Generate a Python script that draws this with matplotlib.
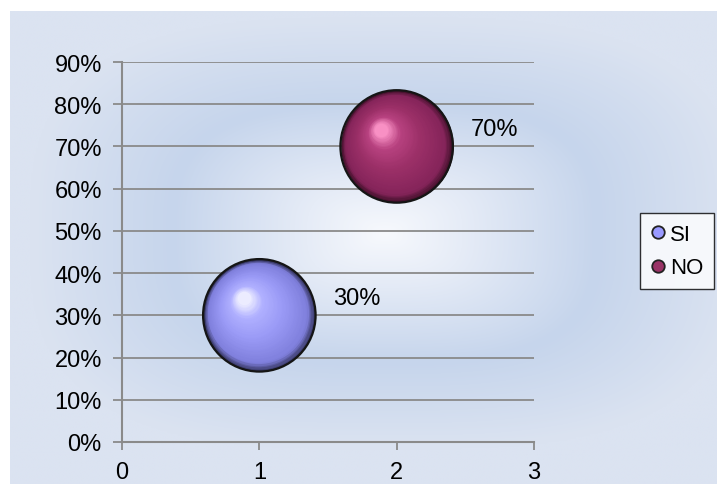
import numpy as np
import matplotlib.pyplot as plt
from matplotlib.colors import to_rgb
from matplotlib.lines import Line2D
from matplotlib.transforms import offset_copy

plt.rcParams["font.family"] = ["Liberation Sans", "DejaVu Sans"]

# Daten
categorias = ["SI", "NO"]
x_vals = [1, 2]
porcentajes = [30, 70]
etiquetas = ["30%", "70%"]
yticks = [0, 10, 20, 30, 40, 50, 60, 70, 80, 90]
xticks = [0, 1, 2, 3]

# Farben (Excel-Standard) + Verlauf fuer die Kugel-Optik
colores = ["#9999ff", "#993366"]
rampas = [
    ["#2e2e55", "#7f7fdc", "#9a9af6", "#b0b0ff", "#ececff"],
    ["#3c0f26", "#85245a", "#9c3068", "#b84280", "#f890c4"],
]

W, H = 717, 485
fig = plt.figure(figsize=(W / 100, H / 100), dpi=100)
fig.patch.set_facecolor("white")

# Hintergrund: Verlauf vom Zentrum (weiss) ueber Blau zum hellen Rand
bg = fig.add_axes([10 / W, 0, 1 - 10 / W, 1 - 12 / H], zorder=0)
gy, gx = np.mgrid[-1:1:300j, -1:1:450j]
d = ((np.abs(gx - 0.06) ** 3 + np.abs((gy + 0.06) * 1.1) ** 3) ** (1 / 3))
stops_t = [0.0, 0.22, 0.6, 1.0, 1.5]
c_center, c_mid, c_blue, c_edge = (np.array(to_rgb(c)) for c in
                                   ["#f7f9fd", "#e6ecf7", "#c6d5ec", "#dbe3f1"])
stops_c = [c_center, c_mid, c_blue, c_edge, c_edge]
img = np.zeros(d.shape + (3,))
for k in range(3):
    img[..., k] = np.interp(d, stops_t, [c[k] for c in stops_c])
bg.imshow(img, aspect="auto", interpolation="bicubic")
bg.axis("off")

ax = fig.add_axes([122 / W, 1 - 443 / H, (534 - 122) / W, (443 - 63) / H], zorder=1)
ax.patch.set_alpha(0)
ax.set_xlim(0, 3)
ax.set_ylim(0, 90)
ax.set_xticks(xticks)
ax.set_yticks(yticks)
ax.set_yticklabels([f"{v}%" for v in yticks])
ax.set_axisbelow(True)
ax.grid(axis="y", color="#8a8a8a", linewidth=1.3)
for s in ["top", "right"]:
    ax.spines[s].set_visible(False)
for s in ["left", "bottom"]:
    ax.spines[s].set_color("#8a8a8a")
    ax.spines[s].set_linewidth(1.5)
ax.tick_params(axis="both", colors="#8a8a8a", labelcolor="black",
               labelsize=17, width=1.3, direction="out", pad=8)
ax.tick_params(axis="y", length=6.5)
ax.tick_params(axis="x", length=6)

# Blasen: Schichten von aussen (dunkel) zum Glanzpunkt oben links
D = 81.0          # Durchmesser in Punkten
R = D / 2
hx, hy = -0.28 * R, 0.30 * R
n = 45
for x, y, rampa in zip(x_vals, porcentajes, rampas):
    cols = [np.array(to_rgb(c)) for c in rampa]
    ct = [0.0, 0.12, 0.5, 0.8, 1.0]
    for i in range(n):
        t = i / (n - 1)
        r = R * (1 - 0.88 * t)
        col = [np.interp(t, ct, [c[k] for c in cols]) for k in range(3)]
        tr = offset_copy(ax.transData, fig=fig, x=hx * t, y=hy * t, units="points")
        ax.scatter([x], [y], s=(2 * r) ** 2, color=col, transform=tr,
                   linewidths=0, zorder=3, clip_on=False)
    ax.scatter([x], [y], s=D ** 2, facecolors="none", edgecolors="#151515",
               linewidths=1.6, zorder=4, clip_on=False)

for x, y, lab in zip(x_vals, porcentajes, etiquetas):
    ax.annotate(lab, (x, y), xytext=(74, 17), textcoords="offset pixels",
                fontsize=17, va="center", ha="left", color="black", zorder=5)

handles = [Line2D([], [], linestyle="none", marker="o", markersize=9,
                  markerfacecolor=c, markeredgecolor="#222222", markeredgewidth=1.3)
           for c in colores]
leg = fig.legend(handles, categorias, loc="upper left",
                 bbox_to_anchor=(640 / W, 1 - 214 / H), fontsize=16,
                 frameon=True, fancybox=False, edgecolor="black",
                 handlelength=0.6, handletextpad=0.25, borderpad=0.5,
                 labelspacing=0.55, borderaxespad=0)
leg.get_frame().set_linewidth(1.0)
leg.get_frame().set_facecolor("white")
leg.set_zorder(6)

fig.savefig("out.png", dpi=100)
